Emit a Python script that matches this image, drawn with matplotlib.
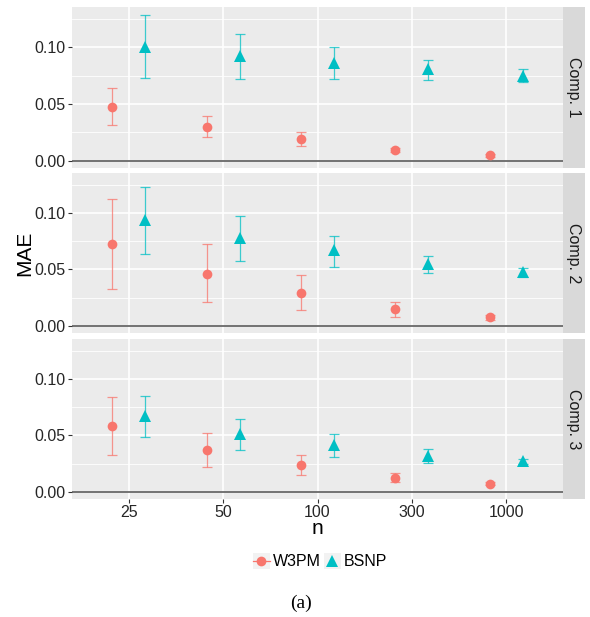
import matplotlib
matplotlib.use("Agg")
import matplotlib.pyplot as plt
import numpy as np
from matplotlib.lines import Line2D
from matplotlib.patches import Rectangle
from matplotlib.legend_handler import HandlerLine2D

plt.rcParams['font.family'] = ['Liberation Sans', 'DejaVu Sans']

n_labels = ["25", "50", "100", "300", "1000"]
components = ["Comp. 1", "Comp. 2", "Comp. 3"]
methods = ["W3PM", "BSNP"]

# W3PM: mean, lower, upper per component
w3pm_mean = [[0.0475, 0.0298, 0.0192, 0.0094, 0.0047],
             [0.0727, 0.0463, 0.0293, 0.0144, 0.0073],
             [0.0582, 0.0368, 0.0240, 0.0126, 0.0070]]
w3pm_low = [[0.0310, 0.0206, 0.0130, 0.0075, 0.0036],
            [0.0328, 0.0208, 0.0138, 0.0076, 0.0055],
            [0.0325, 0.0220, 0.0150, 0.0085, 0.0056]]
w3pm_high = [[0.0643, 0.0390, 0.0250, 0.0113, 0.0058],
             [0.1123, 0.0727, 0.0451, 0.0214, 0.0091],
             [0.0842, 0.0518, 0.0328, 0.0167, 0.0084]]

bsnp_mean = [[0.1000, 0.0920, 0.0865, 0.0805, 0.0750],
             [0.0940, 0.0780, 0.0670, 0.0550, 0.0475],
             [0.0670, 0.0515, 0.0418, 0.0320, 0.0270]]
bsnp_low = [[0.0726, 0.0717, 0.0717, 0.0714, 0.0690],
            [0.0636, 0.0574, 0.0519, 0.0466, 0.0430],
            [0.0482, 0.0371, 0.0310, 0.0254, 0.0250]]
bsnp_high = [[0.1286, 0.1118, 0.1003, 0.0890, 0.0808],
             [0.1230, 0.0973, 0.0797, 0.0618, 0.0513],
             [0.0848, 0.0649, 0.0509, 0.0377, 0.0290]]

yticks = [0.00, 0.05, 0.10]
ytick_labels = ["0.00", "0.05", "0.10"]

RED = "#F8766D"
CYAN = "#00BFC4"
PANEL_BG = "#EBEBEB"
STRIP_BG = "#D9D9D9"
TXT = "#262626"

W, H = 590, 617
fig = plt.figure(figsize=(W / 100, H / 100), dpi=100)

def fx(px):
    return px / W

def fy(py):
    return 1 - py / H

panels = [(7, 168), (173, 333), (339, 499)]
left_px, right_px = 72, 563
strip_w = 22
dodge = 0.175
x = np.arange(len(n_labels))

axes = []
for i, (top, bot) in enumerate(panels):
    ax = fig.add_axes([fx(left_px), fy(bot), fx(right_px - left_px), (bot - top) / H])
    ax.set_facecolor(PANEL_BG)
    for s in ax.spines.values():
        s.set_visible(False)
    ax.set_xlim(-0.6, len(n_labels) - 0.4)
    ax.set_ylim(-0.00645, 0.1354)
    ax.set_yticks(yticks)
    ax.set_yticklabels(ytick_labels)
    ax.set_yticks([0.025, 0.075, 0.125], minor=True)
    ax.set_xticks(x)
    ax.grid(which='major', color='white', linewidth=1.2)
    ax.grid(which='minor', axis='y', color='white', linewidth=0.6)
    ax.set_axisbelow(True)
    ax.tick_params(axis='both', which='major', length=3, width=0.8, color='#333333',
                   labelsize=11.5, labelcolor=TXT, pad=1.5)
    ax.tick_params(axis='both', which='minor', length=0)
    if i < 2:
        ax.tick_params(axis='x', which='major', length=0, labelbottom=False)
    else:
        ax.set_xticklabels(n_labels)
    ax.axhline(0, color='#4D4D4D', linewidth=1.1, zorder=2)

    m, lo, hi = np.array(w3pm_mean[i]), np.array(w3pm_low[i]), np.array(w3pm_high[i])
    ax.errorbar(x - dodge, m, yerr=[m - lo, hi - m], fmt='none', ecolor=RED,
                elinewidth=0.9, capsize=3.3, capthick=0.9, alpha=0.75, zorder=3)
    ax.plot(x - dodge, m, 'o', color=RED, markersize=7, markeredgewidth=0, zorder=4)

    m, lo, hi = np.array(bsnp_mean[i]), np.array(bsnp_low[i]), np.array(bsnp_high[i])
    ax.errorbar(x + dodge, m, yerr=[m - lo, hi - m], fmt='none', ecolor=CYAN,
                elinewidth=0.9, capsize=3.3, capthick=0.9, alpha=0.75, zorder=3)
    ax.plot(x + dodge, m, '^', color=CYAN, markersize=8.5, markeredgewidth=0, zorder=4)
    axes.append(ax)

    sax = fig.add_axes([fx(right_px), fy(bot), fx(strip_w), (bot - top) / H])
    sax.set_facecolor(STRIP_BG)
    sax.set_xticks([]); sax.set_yticks([])
    for s in sax.spines.values():
        s.set_visible(False)
    sax.text(0.5, 0.5, components[i], rotation=-90, ha='center', va='center',
             fontsize=11.5, color='#1A1A1A', transform=sax.transAxes)

fig.text(fx(25), fy(253), "MAE", rotation=90, ha='center', va='center', fontsize=15, color='black')
fig.text(fx(317), fy(529), "n", ha='center', va='center', fontsize=15, color='black')


class KeyHandler(HandlerLine2D):
    def create_artists(self, legend, orig_handle, xdescent, ydescent, width, height, fontsize, trans):
        arts = super().create_artists(legend, orig_handle, xdescent, ydescent, width, height, fontsize, trans)
        size = max(width, height)
        rect = Rectangle((-xdescent + (width - size) / 2, -ydescent + (height - size) / 2), size, size,
                         facecolor='#F2F2F2', edgecolor='none', transform=trans, zorder=0)
        return [rect] + list(arts)


h1 = Line2D([], [], color=RED, marker='o', markersize=7, linewidth=0.9, markeredgewidth=0)
h2 = Line2D([], [], color=CYAN, marker='^', markersize=8.5, linewidth=0, markeredgewidth=0)
leg = fig.legend([h1, h2], methods, loc='center', bbox_to_anchor=(fx(320), fy(562)), ncol=2,
                 frameon=False, fontsize=11.5, handlelength=1.05, handletextpad=0.2,
                 columnspacing=0.2, handler_map={Line2D: KeyHandler()})

fig.text(fx(301), fy(603), "(a)", ha='center', va='center', fontsize=14,
         family=['Liberation Serif', 'DejaVu Serif'])

fig.savefig("out.png", dpi=100)
